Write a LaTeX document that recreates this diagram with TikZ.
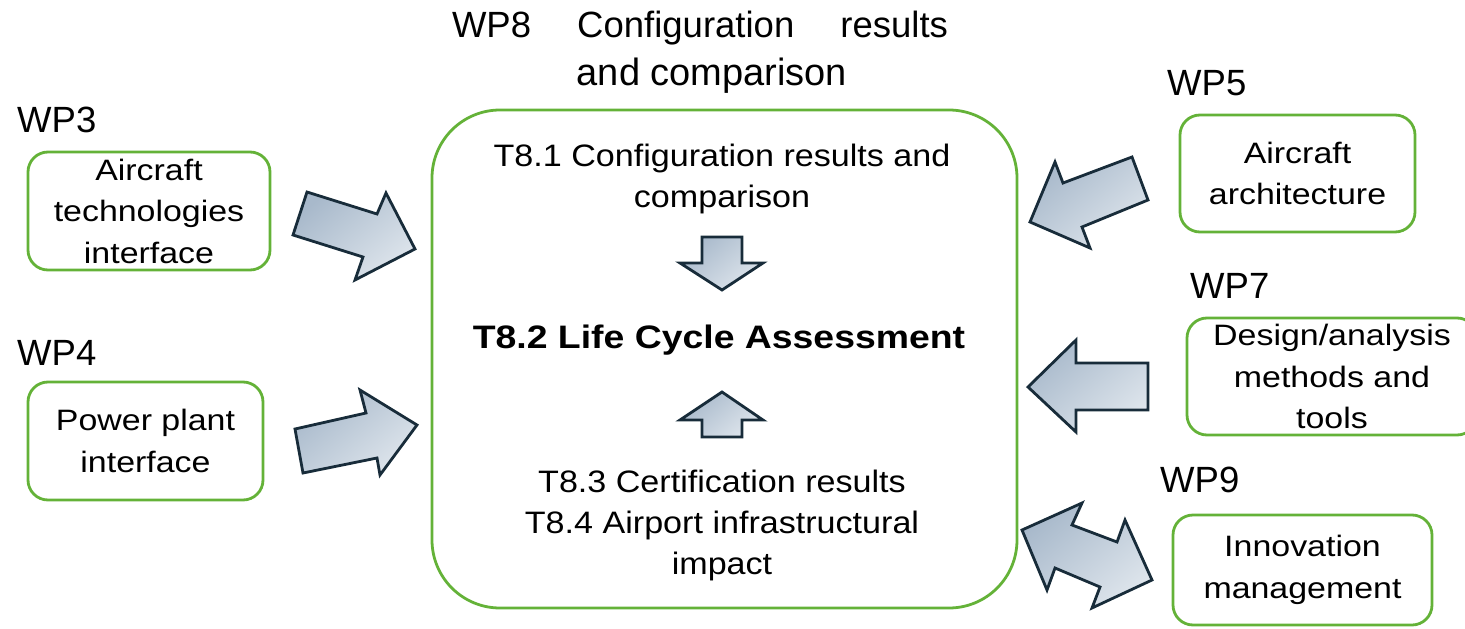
\documentclass[tikz,border=0pt]{standalone}
\usepackage{fontspec}
\setmainfont{Liberation Sans}
\newfontfamily\boxfont[FakeStretch=1.15]{Liberation Sans}
\newfontfamily\midfont[FakeStretch=1.1]{Liberation Sans}
\definecolor{boxgreen}{RGB}{100,178,56}
\definecolor{arrowdark}{RGB}{168,185,203}
\definecolor{arrowlight}{RGB}{222,229,236}
\definecolor{arrowline}{RGB}{24,44,58}
\begin{document}
\begin{tikzpicture}[x=1pt,y=-1pt,
  wpbox/.style={draw=boxgreen, line width=2.8pt, rounded corners=20pt,
    inner sep=0pt, align=center,
    font=\boxfont\fontsize{29.5}{41.5}\selectfont},
  wplabel/.style={anchor=base west, inner sep=0pt,
    font=\fontsize{36.5}{44}\selectfont},
  tasktext/.style={align=center, inner sep=0pt,
    font=\midfont\fontsize{31}{41}\selectfont},
  blockarrow/.style={draw=arrowline, line width=2.8pt, line join=miter,
    top color=arrowdark, bottom color=arrowlight, shading angle=40}]
\useasboundingbox (0,0) rectangle (1465,629);

% WP8 heading and main box
\node[anchor=base, inner sep=0pt, font=\fontsize{36.5}{44}\selectfont]
  (headA) at (700,37) {\makebox[496pt][s]{WP8 Configuration results}};
\node[anchor=base, inner sep=0pt, font=\fontsize{38}{44}\selectfont]
  (headB) at (712,85) {and comparison};
\node[draw=boxgreen, line width=2.8pt, rounded corners=68pt,
  minimum width=585pt, minimum height=498pt, inner sep=0pt]
  (wp8) at (724.5,359) {};

\node[tasktext] (t81) at (722,179) {T8.1 Configuration results and\\comparison};
\node[inner sep=0pt, font=\boxfont\bfseries\fontsize{32.5}{40}\selectfont]
  (t82) at (719,340) {T8.2 Life Cycle Assessment};
\node[tasktext] (t83) at (722,525)
  {T8.3 Certification results\\T8.4 Airport infrastructural\\impact};

% inner arrows towards T8.2
\draw[blockarrow] (702,237) -- (742,237) -- (742,263) -- (763,263) -- (722,290)
  -- (680,263) -- (702,263) -- cycle;
\draw[blockarrow] (722,392) -- (763,420) -- (742,420) -- (742,437) -- (702,437)
  -- (702,420) -- (680,420) -- cycle;

% left work packages
\node[wplabel] (wp3) at (17,132) {WP3};
\node[wpbox, minimum width=242pt, minimum height=118pt] (b3) at (149,211)
  {Aircraft\\technologies\\interface};
\node[wplabel] (wp4) at (17,365) {WP4};
\node[wpbox, minimum width=235pt, minimum height=118pt] (b4) at (145.5,441)
  {Power plant\\interface};

% right work packages
\node[wplabel] (wp5) at (1167,95) {WP5};
\node[wpbox, minimum width=235pt, minimum height=117pt] (b5) at (1297.5,173.5)
  {Aircraft\\architecture};
\node[wplabel] (wp7) at (1190,298) {WP7};
\node[wpbox, minimum width=290pt, minimum height=117pt] (b7) at (1332,376.5)
  {Design/analysis\\methods and\\tools};
\node[wplabel] (wp9) at (1160,492) {WP9};
\node[wpbox, minimum width=259pt, minimum height=110pt] (b9) at (1302.5,570)
  {Innovation\\management};

% block arrows between the work packages and WP8
\draw[blockarrow] (307,192) -- (377,214) -- (386,193) -- (415,249) -- (355,280)
  -- (363,257) -- (293,235) -- cycle;
\draw[blockarrow] (295,429) -- (366,413) -- (360,390) -- (417,425) -- (380,475)
  -- (377,458) -- (303,473) -- cycle;
\draw[blockarrow] (1030,222) -- (1055,162) -- (1063,183) -- (1132,157)
  -- (1148,200) -- (1082,227) -- (1090,248) -- cycle;
\draw[blockarrow] (1028,387) -- (1076,340) -- (1076,363) -- (1148,363)
  -- (1148,410) -- (1076,410) -- (1076,432) -- cycle;
\draw[blockarrow] (1022,530) -- (1082,503) -- (1072,525) -- (1117,542)
  -- (1125,520) -- (1152,580) -- (1092,608) -- (1100,587) -- (1055,568)
  -- (1047,590) -- cycle;
\end{tikzpicture}
\end{document}
